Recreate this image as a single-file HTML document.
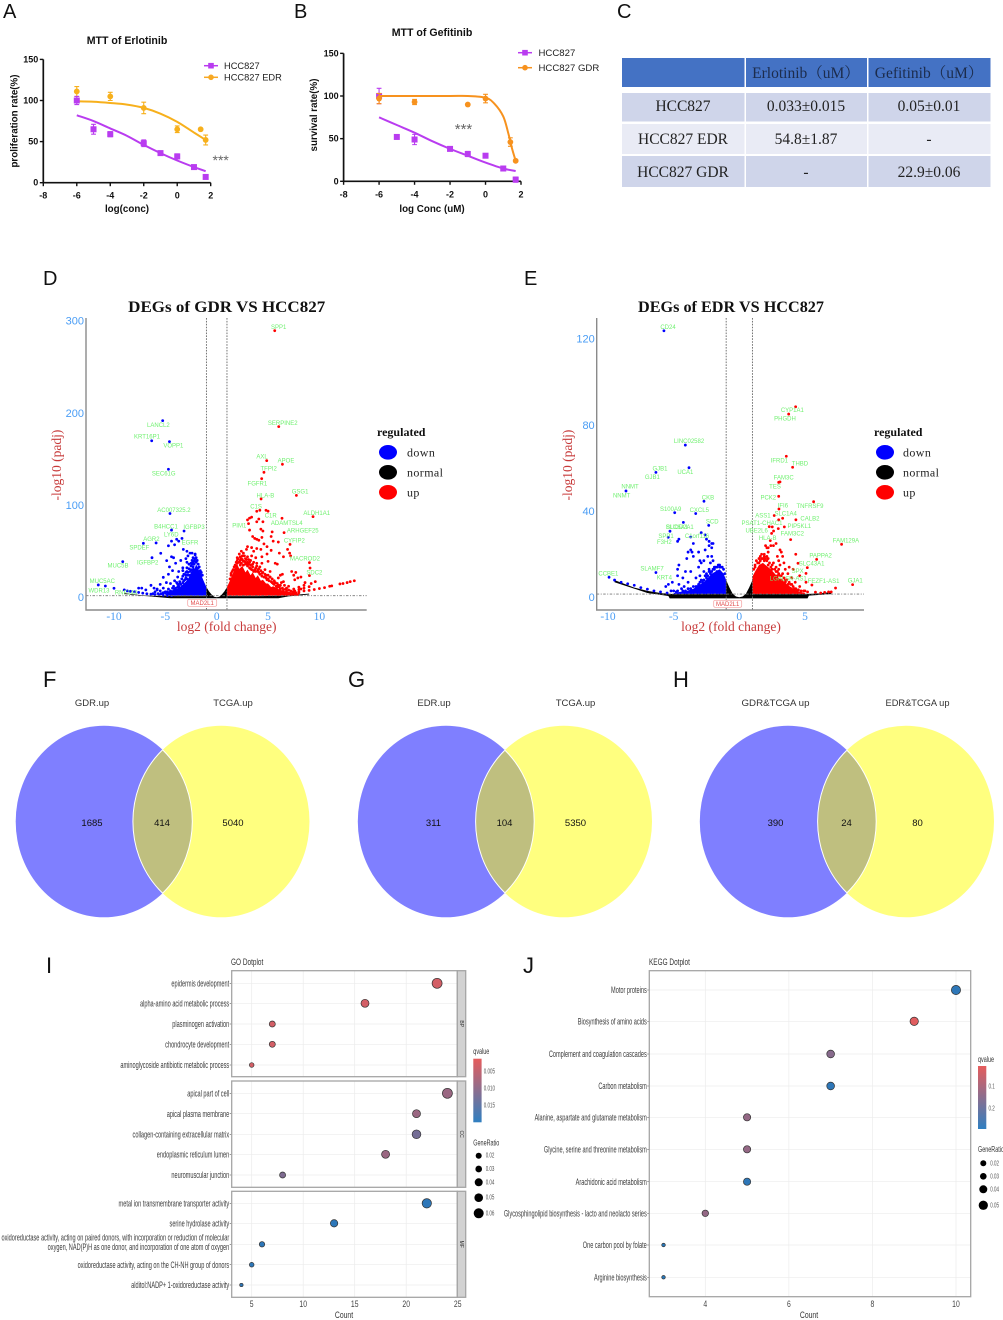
<!DOCTYPE html>
<html lang="en">
<head>
<meta charset="utf-8">
<title>Drug resistance figure panels</title>
<style>
html,body{margin:0;padding:0;background:#fff;width:1003px;height:1320px;overflow:hidden}
svg{display:block;font-family:"Liberation Sans",sans-serif}
.serif{font-family:"Liberation Serif","Noto Serif CJK SC",serif}
.letter{font-size:20px;fill:#111}
.cell{font-size:15.5px;fill:#222;text-anchor:middle}
.venn-label{font-size:9.5px;fill:#333;text-anchor:middle}
.venn-count{font-size:9.5px;fill:#111;text-anchor:middle}
</style>
</head>
<body>
<svg id="figure" xmlns="http://www.w3.org/2000/svg" width="1003" height="1320" viewBox="0 0 1003 1320">
  <rect width="1003" height="1320" fill="#fff"/>
  <text class="letter" x="3" y="18">A</text>
  <text class="letter" x="294" y="18">B</text>
  <text class="letter" x="617" y="18">C</text>
  <text class="letter" x="43" y="285">D</text>
  <text class="letter" x="524" y="285">E</text>
  <text class="letter" x="43" y="687" style="font-size:22px">F</text>
  <text class="letter" x="348" y="687" style="font-size:22px">G</text>
  <text class="letter" x="673" y="687" style="font-size:22px">H</text>
  <text class="letter" x="46" y="973" style="font-size:22px">I</text>
  <text class="letter" x="523" y="973" style="font-size:22px">J</text>

  <g id="panel-a"></g>
  <g id="panel-b"></g>

  <g id="panel-c">
    <rect x="622" y="58" width="122.5" height="29" fill="#4472c4"/>
    <rect x="746" y="58" width="121" height="29" fill="#4472c4"/>
    <rect x="868.5" y="58" width="122" height="29" fill="#4472c4"/>
    <rect x="622" y="93" width="122.5" height="28.5" fill="#cfd5ea"/>
    <rect x="746" y="93" width="121" height="28.5" fill="#cfd5ea"/>
    <rect x="868.5" y="93" width="122" height="28.5" fill="#cfd5ea"/>
    <rect x="622" y="124" width="122.5" height="30" fill="#e9ebf5"/>
    <rect x="746" y="124" width="121" height="30" fill="#e9ebf5"/>
    <rect x="868.5" y="124" width="122" height="30" fill="#e9ebf5"/>
    <rect x="622" y="156" width="122.5" height="31" fill="#cfd5ea"/>
    <rect x="746" y="156" width="121" height="31" fill="#cfd5ea"/>
    <rect x="868.5" y="156" width="122" height="31" fill="#cfd5ea"/>
    <text class="cell serif" x="806" y="78" style="fill:#1c2c4c">Erlotinib（uM）</text>
    <text class="cell serif" x="929" y="78" style="fill:#1c2c4c">Gefitinib（uM）</text>
    <text class="cell serif" x="683" y="111">HCC827</text>
    <text class="cell serif" x="806" y="111">0.033±0.015</text>
    <text class="cell serif" x="929" y="111">0.05±0.01</text>
    <text class="cell serif" x="683" y="144">HCC827 EDR</text>
    <text class="cell serif" x="806" y="144">54.8±1.87</text>
    <text class="cell serif" x="929" y="144">-</text>
    <text class="cell serif" x="683" y="177">HCC827 GDR</text>
    <text class="cell serif" x="806" y="177">-</text>
    <text class="cell serif" x="929" y="177">22.9±0.06</text>
  </g>

  <g id="panel-d"></g>
  <g id="panel-e"></g>

  <defs>
    <clipPath id="clip-f"><ellipse cx="104" cy="821.5" rx="88.3" ry="95.8"/></clipPath>
    <clipPath id="clip-f2"><ellipse cx="221.2" cy="821.5" rx="88.3" ry="95.8"/></clipPath>
    <clipPath id="clip-g"><ellipse cx="446" cy="821.5" rx="88.2" ry="95.8"/></clipPath>
    <clipPath id="clip-g2"><ellipse cx="563.8" cy="821.5" rx="88.2" ry="95.8"/></clipPath>
    <clipPath id="clip-h"><ellipse cx="788" cy="821.5" rx="88.2" ry="95.8"/></clipPath>
    <clipPath id="clip-h2"><ellipse cx="905.8" cy="821.5" rx="88.2" ry="95.8"/></clipPath>
    <linearGradient id="q-gradient" x1="0" y1="0" x2="0" y2="1">
      <stop offset="0" stop-color="#e65c5c"/><stop offset="1" stop-color="#2f7fc1"/>
    </linearGradient>
  </defs>

  <g id="panel-f">
    <ellipse cx="104" cy="821.5" rx="88.3" ry="95.8" fill="#7f7fff"/>
    <ellipse cx="221.2" cy="821.5" rx="88.3" ry="95.8" fill="#ffff7f"/>
    <ellipse cx="221.2" cy="821.5" rx="88.3" ry="95.8" fill="#bfbf7f" stroke="#fff" stroke-width="1" clip-path="url(#clip-f)"/>
    <ellipse cx="104" cy="821.5" rx="88.3" ry="95.8" fill="none" stroke="#fff" stroke-width="1" clip-path="url(#clip-f2)"/>
    <text class="venn-label" x="92" y="706">GDR.up</text>
    <text class="venn-label" x="233" y="706">TCGA.up</text>
    <text class="venn-count" x="92" y="826">1685</text>
    <text class="venn-count" x="162" y="826">414</text>
    <text class="venn-count" x="233" y="826">5040</text>
  </g>
  <g id="panel-g">
    <ellipse cx="446" cy="821.5" rx="88.2" ry="95.8" fill="#7f7fff"/>
    <ellipse cx="563.8" cy="821.5" rx="88.2" ry="95.8" fill="#ffff7f"/>
    <ellipse cx="563.8" cy="821.5" rx="88.2" ry="95.8" fill="#bfbf7f" stroke="#fff" stroke-width="1" clip-path="url(#clip-g)"/>
    <ellipse cx="446" cy="821.5" rx="88.2" ry="95.8" fill="none" stroke="#fff" stroke-width="1" clip-path="url(#clip-g2)"/>
    <text class="venn-label" x="434" y="706">EDR.up</text>
    <text class="venn-label" x="575.5" y="706">TCGA.up</text>
    <text class="venn-count" x="433.5" y="826">311</text>
    <text class="venn-count" x="504.5" y="826">104</text>
    <text class="venn-count" x="575.5" y="826">5350</text>
  </g>
  <g id="panel-h">
    <ellipse cx="788" cy="821.5" rx="88.2" ry="95.8" fill="#7f7fff"/>
    <ellipse cx="905.8" cy="821.5" rx="88.2" ry="95.8" fill="#ffff7f"/>
    <ellipse cx="905.8" cy="821.5" rx="88.2" ry="95.8" fill="#bfbf7f" stroke="#fff" stroke-width="1" clip-path="url(#clip-h)"/>
    <ellipse cx="788" cy="821.5" rx="88.2" ry="95.8" fill="none" stroke="#fff" stroke-width="1" clip-path="url(#clip-h2)"/>
    <text class="venn-label" x="775.5" y="706" textLength="68" lengthAdjust="spacingAndGlyphs">GDR&amp;TCGA up</text>
    <text class="venn-label" x="917.5" y="706" textLength="64" lengthAdjust="spacingAndGlyphs">EDR&amp;TCGA up</text>
    <text class="venn-count" x="775.5" y="826">390</text>
    <text class="venn-count" x="846.5" y="826">24</text>
    <text class="venn-count" x="917.5" y="826">80</text>
  </g>

  <g id="panel-i"></g>
  <g id="panel-j"></g>
</svg>

<script>
// ---------- Panel A/B: dose response data ----------
const doseXTicks = [-8,-6,-4,-2,0,2];
const doseYTicks = [0,50,100,150];

const erlWtX = [-6,-5,-4,-2,-1,0,1,1.7];
const erlWtY = [100,65,59,48,36,32,19,7];
const erlWtErr = [5,6,3,4,2,3,2,2];
const erlWtCurveX = [-6,-5,-4,-3,-2,-1,0,1,1.7];
const erlWtCurveY = [82,75,66,57,46,36,27,19,14];
const erlResX = [-6,-4,-2,0,1.4,1.7];
const erlResY = [111,105,91,65,65,52];
const erlResErr = [6,5,7,4,1,6];
const erlResCurveX = [-6,-5,-4,-3,-2,-1,0,1,1.7];
const erlResCurveY = [99,98.5,97,95,91,84,74,61,52];

const gefWtX = [-6,-5,-4,-2,-1,0,1,1.7];
const gefWtY = [100,52,49,38,32,30,15,2];
const gefWtErr = [9,2,6,2,3,2,2,3];
const gefWtCurveX = [-6,-5,-4,-3,-2,-1,0,1,1.7];
const gefWtCurveY = [75,66,57,47,38,30,22,15,12];
const gefResX = [-6,-4,-1,0,1.4,1.7];
const gefResY = [97,93,90,97,46,24];
const gefResErr = [6,3,1,5,5,1];
const gefResCurveX = [-6,-4,-2,-1,0,0.5,1,1.3,1.5,1.7];
const gefResCurveY = [100,100,100,100,98,91,76,55,38,24];

// ---------- Panel D: GDR volcano data ----------
const gdrXTicks = [-10,-5,0,5,10];
const gdrYTicks = [0,100,200,300];
const gdrBlackUpperX = [-9,-8,-7,-6,-4,-1.01,-1,-0.75,-0.5,-0.25,0,0.25,0.5,0.75,1,1.01,4,6,7,8,9];
const gdrBlackUpperY = [4.5,3,2,1.6,1.3,1.3,11,6.5,3,0.6,0,0.6,3,6.5,11,1.3,1.3,1.6,2,3,4];
const gdrBlackLowerX = [9,7,6,-4.5,-6,-9];
const gdrBlackLowerY = [3,1,-1,-1,0.5,3.5];
const gdrUpDenseX = [1,1.2,1.5,1.8,2,2.2,2.5,2.8,3,3.3,3.5,3.8,4,4.3,4.5,4.8,5,5.3,5.5,6,6.5,7,8];
const gdrUpDenseY = [11,16,24,32,36,31,34,27,30,24,27,21,24,18,19,15,15,11,12,9,7,6,4];
const gdrDownDenseX = [-1,-1.2,-1.5,-1.8,-2,-2.15,-2.3,-2.6,-2.8,-3,-3.3,-3.5,-4,-4.5,-5];
const gdrDownDenseY = [11,16,24,31,36,31,34,24,20,17,14,12,8,6,4];
const gdrUpPoints = [5.65,289.5,6.04,185.3,4.87,148.4,6.4,144.4,4.6,135.7,4.38,128.8,4.32,106.8,7.76,110.7,3.9,93.4,4.2,94.5,4.8,94.5,5,93.5,9.38,87.6,6.36,85.8,6.56,70.2,7.14,57.5,9.03,37.6,9.09,31.8,9.03,23.5,
3.1,80,3,84,3.4,87,3.2,86,3.9,82,4.1,85,4.5,82,3.2,73,4.3,74,4.5,72,5.4,71,6,60,5.5,61,5.3,66,3.5,66,3.7,64,3.9,63,4.1,62,4.4,65,4.6,58,4.9,55,3,55,2.9,52,3.4,54,3.6,50,3.9,53,4.3,52,2.4,50,2.6,48,2.2,47,2.7,45,3,44,3.4,45,3.8,43,4.4,44,4.9,47,5.3,51,6.1,48,6.5,44,6.9,52,7.1,48,7.2,45,5.7,37,5.9,36,5,39,4.4,37,3.9,37,3.5,36,3,38,2.6,39,2.3,40,2,43,2,37,2.3,35,2.8,36,3.3,35,3.8,32,4.2,33,4.7,30,5.2,28,6.2,24,6.4,25,6,21,7.3,28,7.7,27,7.5,24,7.9,21,8.2,22,7.6,19,8.6,16,6.5,17,5.6,18,5.9,15,6.6,13,7,12,8,11,8.5,13,9.2,15,9.6,17,7.5,9,8.2,9,5.2,22,4.8,24,4.4,26,3.2,32,3.6,29,4,28,2.9,41,2.4,42,1.9,34,1.7,30,1.4,24,1.3,20,5.4,16,6.2,13,6.8,10,
1.4,26,1.5,28,1.6,30,1.7,33,1.8,35,1.9,38,2,40,2.1,42,2.2,38,2.3,44,2.4,37,2.5,41,2.5,45,2.6,35,2.7,39,2.8,42,2.8,38,2.9,36,3,34,3.1,36,3.1,41,3.2,38,3.3,31,3.3,40,3.4,30,3.5,33,3.6,28,3.6,38,3.7,30,3.8,28,3.9,34,4,30,4.1,27,4.1,31,4.2,25,4.3,29,4.4,23,4.5,27,4.6,22,4.7,25,4.8,21,4.9,19,5,24,5,20,5.1,18,5.2,22,5.3,17,5.4,20,5.5,15,5.6,14,5.7,16,5.8,12,5.9,11,6,13,6.1,11,6.2,9,6.3,16,6.4,10,6.5,8,6.7,9,6.8,7,7,8,7.2,7,7.4,6,7.7,5,8,5,
6,3,6.5,4,7,4.5,7.5,5,8,6,8.5,7,9,7.5,9.5,8.5,10,9.5,10.5,10.5,11,12,11.2,12.4,12,14.5,12.3,15,12.7,16,13,17,13.4,18,7.6,7,8,8.5,8.5,10,9,11.5];
const gdrDownPoints = [-5.26,191.8,-6.33,170,-4.6,169,-4.7,139,-4.55,91,-4.4,73,-3.18,72,-3.38,64,-3.9,63,-4.4,61,-3.7,61,-4.1,57,-4.7,56,-7.14,58.6,-5.9,59,-3.25,52,-9.15,38.7,-6.3,43,-5.45,47.8,-4.87,39.8,-4.4,44,-2.9,50,-2.4,48,-2.1,46,-11.53,13.4,-10.84,12.3,-10,9.8,-5.2,21.7,
-2.6,48,-2.1,47,-2.3,43,-2.8,45,-3,42,-2.4,40,-2.1,39,-2.9,38,-3.5,40,-4.2,43,-4,37,-4.6,33,-3.3,32,-2.9,32,-2.5,34,-4.3,29,-3.7,28,-3.3,29,-2.8,27,-4.7,25,-3.8,22,-3.3,23,-3,24,-2.6,24,-4.1,18,-3.6,17,-3.2,18,-2.9,20,-4.5,15,-4.9,16,-5.5,14,-6.4,13,-6.1,10,-5.8,9,-5.2,10,-4.7,9,-4.2,12,-3.8,14,-7.3,10,-7.6,10,-6.9,8,-5.8,8,-6,6,-5.5,7,-5,5,-4.4,6,-4,8,-3.6,10,-3.2,12,-2.2,36,-2,38,-1.8,32,-1.6,26,
-1.4,24,-1.5,27,-1.6,29,-1.7,33,-1.8,36,-1.9,40,-2,43,-2.1,42,-2.2,40,-2.3,38,-2.3,33,-2.4,36,-2.5,30,-2.5,37,-2.6,28,-2.7,31,-2.7,36,-2.8,24,-2.9,28,-3,21,-3,27,-3.1,19,-3.2,25,-3.3,16,-3.4,20,-3.5,14,-3.6,15,-3.7,12,-3.8,11,-3.9,16,-4,10,-4.1,9,-4.2,7,-4.3,10,-4.5,7,-4.6,5,-4.8,6,-5,6,-5.2,5,-5.4,4,-5.7,4,-6.2,4,
-9,8,-8.7,7,-8.4,6.5,-8,6,-7.6,5.3,-7.2,4.5,-6.8,3.8,-6.4,3.4,-6,3,-5.6,2.6,-5.2,2.2,-4.8,2,-4.4,1.8];
const gdrGenes = ["SPP1","LANCL2","KRT16P1","VOPP1","SEC61G","AC007325.2","B4HCC1","IGFBP3","LY6D","AGR2","EGFR","SPDEF","IGFBP2","MUC5B","MUC5AC","WDR13","RNF144","SERPINE2","AXL","APOE","TFPI2","FGFR1","GSG1","HLA-B","C1S","C1R","ALDH1A1","PIM1","ADAMTSL4","ARHGEF25","CYFIP2","MACROD2","SDC2"];
const gdrGeneX = [6.04,-5.68,-6.79,-4.22,-5.16,-4.16,-4.94,-2.21,-4.42,-6.36,-2.6,-7.53,-6.72,-9.61,-11.14,-11.46,-8.83,6.43,4.42,6.75,5.06,3.96,8.12,4.74,3.83,5.26,9.74,2.2,6.82,8.38,7.56,8.6,9.51];
const gdrGeneY = [293.5,187,174.8,164.7,134.3,94.8,77.1,76.4,68,63.3,59.4,53.9,38,34.4,17.7,7.6,5,189.3,152.7,148.8,139.7,123.8,114.7,110.7,98.8,88.7,91.6,77.8,80.7,72.4,61.9,42,27.1];

// ---------- Panel E: EDR volcano data ----------
const edrXTicks = [-10,-5,0,5];
const edrYTicks = [0,40,80,120];
const edrBlackUpperX = [-9.5,-8,-7,-6,-5,-1.01,-1,-0.75,-0.5,-0.25,0,0.25,0.5,0.75,1,1.01,5,6,7];
const edrBlackUpperY = [8,4.5,3,2,1.5,1.5,8,4.5,1.6,0.4,0,0.4,1.6,4.5,8,1.5,1.5,1.8,2.4];
const edrBlackLowerX = [7,5.3,5.2,-5.3,-5.4,-7,-9.5];
const edrBlackLowerY = [1.5,0.8,-0.5,-0.5,0.6,2,7];
const edrUpDenseX = [1,1.2,1.5,1.8,2.1,2.4,2.7,3,3.3,3.6,4,4.4,5];
const edrUpDenseY = [9.6,12,15,16,14.5,13,11,9,8,6,4.5,3,2];
const edrDownDenseX = [-1,-1.2,-1.5,-1.8,-2.1,-2.4,-2.7,-3,-3.5,-4,-4.5,-5];
const edrDownDenseY = [8,11,13,12,11,9,7,6,4,3,2.5,2];
const edrUpPoints = [4.29,88.5,3.76,85.1,3.58,65.5,4.06,60.4,3.1,53.6,3,53.4,3,46.9,5.66,44.4,3.02,41,2.66,38,3.3,36.7,3,36,4.31,36,2.28,32.8,2.51,32.7,3.43,32.7,2.97,31.9,2.61,30.8,2.46,29.7,3.91,26.8,2.36,26.3,7.79,24.6,5.89,17.6,4.47,15.8,5.18,13.8,5.08,11.1,8.63,5.9,7.33,4.3,5.53,5.7,5.08,7,4.26,7,
2.4,24,2.6,24,2.2,23,2,24,2.1,23,2.8,25,3.1,22,1.9,20,2.2,21,2.1,19,1.9,18,3.2,21,2.9,19,3.3,19,3,17,3.4,16,3.1,15,4.3,20,3.8,14,3.5,13,4.1,13,3,13,2.8,14,2.5,15,2.2,15,1.9,17,1.6,17,3.3,11,3.7,11,4.6,10,4,9,3.5,8,2.9,10,2.6,10,2.3,12,2,12,3.2,8,2.9,7,3.9,6,4.6,5,4.9,3,4,3,3.4,4,3,4,2.6,5,2.3,7,5,3,4.4,3,5.8,2.4,6.2,2,6.5,2.3,6.8,2.5,7,2.5,1.2,14,1.5,16,1.7,18,
1.1,13,1.2,15,1.3,17,1.4,16,1.5,18,1.6,19,1.7,20,1.8,18,1.9,19,2,18,2.1,17,2.2,18,2.3,16,2.4,14,2.5,13,2.6,16,2.7,13,2.8,12,2.9,12,3,11,3.1,10,3.2,10,3.4,9,3.5,7,3.6,8,3.7,6,3.8,7,4,6,4.1,5,4.2,4,4.3,4,4.5,3.5,4.7,3,5.2,2.5];
const edrDownPoints = [-5.74,123.8,-4.11,70.7,-3.83,60.2,-6.35,58,-8.63,49.4,-2.69,44.6,-4.92,39.3,-3.32,38.9,-4.26,34.8,-2.33,33.4,-5.28,30.7,-5.41,27.9,-6.35,11.5,-9.92,9.3,
-2.9,30,-2.6,29,-2.5,27,-2.3,26,-2.1,25,-2,25,-2.3,24,-2.1,23,-3.5,25,-3.7,22,-3.9,21,-3.6,21,-3.1,21,-2.6,22,-4,18,-3.5,19,-3,17,-2.9,16,-2.7,17,-2.1,19,-2.4,19,-2.2,16,-2,17,-3.1,14,-2.7,12,-2.3,13,-4.6,15,-4.7,13,-4.1,12,-3.7,12,-2.5,11,-2.1,10,-1.7,12,-4.7,10,-4.3,9,-3.9,7,-3.3,9,-3,10,-2.7,8,-5.1,7,-5.4,6,-5.6,5,-4.6,6,-4.2,5,-3.7,4,-3.2,5,-2.8,5,-5,3,-4.7,3,-4.3,3,-3.8,2.5,-3.3,3,-2.6,3,-4.6,27,-4.7,26,-3.7,28,-2.2,12,-1.9,14,-1.5,14,
-1.1,11,-1.2,13,-1.3,14,-1.4,14,-1.5,15,-1.6,15,-1.7,14,-1.8,14,-1.9,13,-2,13,-2.1,12,-2.2,11,-2.3,12,-2.4,10,-2.5,9,-2.6,10,-2.7,8,-2.8,7,-2.9,8,-3,7,-3.1,6,-3.3,5,-3.5,5,-3.7,3,-3.9,4,-4.1,3,-4.4,4,-4.8,2.5,-5.2,3,
-9.5,8,-9,7,-8.5,6.3,-8,5.6,-7.5,4.5,-7,3.8,-6.5,3,-6,2.5,-5.5,2];
const edrGenes = ["CD24","LINC02582","GJB1","GJB1","UCA1","NNMT","NNMT","CKB","S100A9","CXCL5","SCD","BUDD2A1","SLC6A1","SPP1","F3H2","C1orf116","SLAMF7","KRT4","CCBE1","CYP1A1","PHGDH","IFRD1","THBD","FAM3C","TES","PCK2","IFI6","TNFRSF9","ASS1","SLC1A4","CALB2","PSAT1-CHAC1","PIP5KL1","UBE2L6","FAM3C2","HLA-B","FAM129A","PAPPA2","SLC43A1","SPX","LGALSR-AS1","FEZF1-AS1","GJA1"];
const edrGeneX = [-5.43,-3.83,-6.04,-6.62,-4.11,-8.32,-8.96,-2.39,-5.23,-3.05,-2.06,-4.52,-4.75,-5.58,-5.71,-3.22,-6.65,-5.71,-9.97,4.04,3.48,3.05,4.62,3.38,2.72,2.21,3.32,5.38,1.8,3.53,5.38,1.73,4.57,1.32,4.04,2.16,8.12,6.19,5.51,4.44,3.73,6.42,8.83];
const edrGeneY = [125.5,72.6,59.9,55.9,58.2,51.4,47.2,46.3,41,40.6,35.3,32.7,32.7,28.5,25.7,28.5,13.3,9.1,11,87,83,63.5,62.2,55.6,51.4,46.4,42.7,42.3,38.1,38.9,36.5,34.5,33.1,31,29.6,27.6,26.3,19.5,15.6,12.2,8.7,7.6,7.7];

// ---------- Panel I: GO dotplot data ----------
const goXTicks = [5,10,15,20,25];
const goTerms = ["epidermis development","alpha-amino acid metabolic process","plasminogen activation","chondrocyte development","aminoglycoside antibiotic metabolic process","apical part of cell","apical plasma membrane","collagen-containing extracellular matrix","endoplasmic reticulum lumen","neuromuscular junction","metal ion transmembrane transporter activity","serine hydrolase activity","oxidoreductase activity, acting on paired donors, with incorporation or reduction of molecular|oxygen, NAD(P)H as one donor, and incorporation of one atom of oxygen","oxidoreductase activity, acting on the CH-NH group of donors","alditol:NADP+ 1-oxidoreductase activity"];
const goCount = [23,16,7,7,5,24,21,21,18,8,22,13,6,5,4];
const goRatio = [.058,.042,.026,.026,.0145,.058,.042,.048,.042,.026,.053,.037,.021,.0145,.005];
const goQvalue = [.002,.002,.002,.002,.002,.008,.008,.012,.008,.011,.0195,.0195,.0195,.0195,.0195];
const goGroups = ["BP","CC","MF"];
const goLegendQ = ["0.005","0.010","0.015"];
const goLegendRatio = ["0.02","0.03","0.04","0.05","0.06"];
const goLegendRatioValues = [.026,.031,.042,.047,.058];

// ---------- Panel J: KEGG dotplot data ----------
const keggXTicks = [4,6,8,10];
const keggTerms = ["Motor proteins","Biosynthesis of amino acids","Complement and coagulation cascades","Carbon metabolism","Alanine, aspartate and glutamate metabolism","Glycine, serine and threonine metabolism","Arachidonic acid metabolism","Glycosphingolipid biosynthesis - lacto and neolacto series","One carbon pool by folate","Arginine biosynthesis"];
const keggCount = [10,9,7,7,5,5,5,4,3,3];
const keggRatio = [.052,.045,.04,.04,.036,.036,.036,.03,.006,.006];
const keggQvalue = [.29,.01,.15,.29,.13,.13,.29,.13,.3,.3];
const keggLegendQ = ["0.1","0.2"];
const keggLegendRatio = ["0.02","0.03","0.04","0.05"];
const keggLegendRatioValues = [.026,.031,.042,.052];

const NS = 'http://www.w3.org/2000/svg';
function mk(parent, tag, attrs, text) {
  const el = document.createElementNS(NS, tag);
  for (const k in attrs) el.setAttribute(k, attrs[k]);
  if (text !== undefined) el.textContent = text;
  parent.appendChild(el);
  return el;
}
function smooth(pts) {
  let d = 'M' + pts[0][0] + ' ' + pts[0][1];
  for (let i = 0; i < pts.length - 1; i++) {
    const p0 = pts[i-1] || pts[i], p1 = pts[i], p2 = pts[i+1], p3 = pts[i+2] || p2;
    d += ' C' + (p1[0] + (p2[0]-p0[0])/6) + ' ' + (p1[1] + (p2[1]-p0[1])/6) + ' ' +
         (p2[0] - (p3[0]-p1[0])/6) + ' ' + (p2[1] - (p3[1]-p1[1])/6) + ' ' + p2[0] + ' ' + p2[1];
  }
  return d;
}

// ---------- dose charts ----------
function drawDoseAxes(g, sx, sy, titleText, titleX, titleY, xLabel, xLabelX, yLabel, yLabelX, yLabelY) {
  let e = mk(g, 'text', {x:titleX, y:titleY, 'text-anchor':'middle', 'font-size':10.6, 'font-weight':'bold', fill:'#111'}, titleText);
  
  
  e = mk(g, 'line', {x1:sx(-8), x2:sx(2), y1:sy(0), y2:sy(0), stroke:'#111', 'stroke-width':1.7});
  
  
  e = mk(g, 'line', {x1:sx(-8), x2:sx(-8), y1:sy(0), y2:sy(150), stroke:'#111', 'stroke-width':1.7});
  
  
  doseXTicks.forEach(function (t) {
    const tick = mk(g, 'line', {x1:sx(t), x2:sx(t), y1:sy(0), y2:sy(0)+3.5, stroke:'#111', 'stroke-width':1.4});
    
    
    const lab = mk(g, 'text', {x:sx(t), y:sy(0)+16, 'text-anchor':'middle', 'font-size':9, 'font-weight':'bold', fill:'#111'}, t);
    
    
  });
  doseYTicks.forEach(function (t) {
    const tick = mk(g, 'line', {x1:sx(-8)-3.5, x2:sx(-8), y1:sy(t), y2:sy(t), stroke:'#111', 'stroke-width':1.4});
    
    
    const lab = mk(g, 'text', {x:sx(-8)-5, y:sy(t)+3, 'text-anchor':'end', 'font-size':9, 'font-weight':'bold', fill:'#111'}, t);
    
    
  });
  e = mk(g, 'text', {x:xLabelX, y:212, 'text-anchor':'middle', 'font-size':9.8, 'font-weight':'bold', fill:'#111'}, xLabel);
  
  
  e = mk(g, 'text', {x:yLabelX, y:yLabelY, 'text-anchor':'middle', 'font-size':9.8, 'font-weight':'bold', fill:'#111', transform:'rotate(-90 '+yLabelX+' '+yLabelY+')'}, yLabel);
  
  
}
function drawDoseSeries(g, sx, sy, cx, cy, px, py, perr, color, square) {
  const curve = cx.map(function (v, i) { return [sx(v), sy(cy[i])]; });
  const path = mk(g, 'path', {d:smooth(curve), fill:'none', stroke:color, 'stroke-width':2});
  
  
  px.forEach(function (v, i) {
    const x = sx(v), y = sy(py[i]), t = sy(py[i]+perr[i]), b = sy(py[i]-perr[i]);
    const err = mk(g, 'path', {d:'M'+(x-2.4)+' '+t+'H'+(x+2.4)+'M'+x+' '+t+'V'+b+'M'+(x-2.4)+' '+b+'H'+(x+2.4), stroke:color, 'stroke-width':1.1, fill:'none'});
    
    
    const m = square ? mk(g, 'rect', {x:x-3, y:y-3, width:6, height:6, fill:color})
                     : mk(g, 'circle', {cx:x, cy:y, r:2.9, fill:color});
    
    
  });
}
function drawDoseLegend(g, x, y, label, color, square, textX, fs) {
  const ln = mk(g, 'line', {x1:x-7, x2:x+7, y1:y, y2:y, stroke:color, 'stroke-width':1.5});
  
  
  const m = square ? mk(g, 'rect', {x:x-2.8, y:y-2.8, width:5.6, height:5.6, fill:color})
                   : mk(g, 'circle', {cx:x, cy:y, r:2.8, fill:color});
  
  
  const t = mk(g, 'text', {x:textX, y:y+3.3, 'font-size':fs, fill:'#222'}, label);
  
  
}
(function () {
  const purple = '#b93cf0';
  const ga = document.getElementById('panel-a');
  const ax = function (v) { return 43.3 + (v + 8) * 16.74; };
  const ay = function (v) { return 182.7 - v * 0.822; };
  drawDoseAxes(ga, ax, ay, 'MTT of Erlotinib', 127, 44, 'log(conc)', 127, 'proliferation rate(%)', 17.5, 121);
  drawDoseSeries(ga, ax, ay, erlResCurveX, erlResCurveY, erlResX, erlResY, erlResErr, '#f7b01c', false);
  drawDoseSeries(ga, ax, ay, erlWtCurveX, erlWtCurveY, erlWtX, erlWtY, erlWtErr, purple, true);
  drawDoseLegend(ga, 211, 65.7, 'HCC827', purple, true, 224, 9.3);
  drawDoseLegend(ga, 211, 77.3, 'HCC827 EDR', '#f7a823', false, 224, 9.3);
  let star = mk(ga, 'text', {x:220.7, y:165, 'text-anchor':'middle', 'font-size':14, fill:'#666'}, '***');
  
  

  const gb = document.getElementById('panel-b');
  const bx = function (v) { return 343.6 + (v + 8) * 17.74; };
  const by = function (v) { return 181.3 - v * 0.853; };
  drawDoseAxes(gb, bx, by, 'MTT of Gefitinib', 432, 36, 'log Conc (uM)', 432, 'survival rate(%)', 317, 115);
  drawDoseSeries(gb, bx, by, gefWtCurveX, gefWtCurveY, gefWtX, gefWtY, gefWtErr, purple, true);
  drawDoseSeries(gb, bx, by, gefResCurveX, gefResCurveY, gefResX, gefResY, gefResErr, '#f7921e', false);
  drawDoseLegend(gb, 525, 52.7, 'HCC827', purple, true, 538.5, 9.6);
  drawDoseLegend(gb, 525, 67.7, 'HCC827 GDR', '#f7921e', false, 538.5, 9.6);
  star = mk(gb, 'text', {x:463.5, y:134, 'text-anchor':'middle', 'font-size':15, fill:'#666'}, '***');
  
  
})();

// ---------- volcano plots ----------
function drawVolcano(g, o, xTicks, yTicks, blackUX, blackUY, blackLX, blackLY, upX, upY, downX, downY, upPts, downPts, genes, geneX, geneY) {
  const sx = function (v) { return o.x0 + v * o.kx; };
  const sy = function (v) { return o.y0 - v * o.ky; };
  const base = o.threshold;
  function poly(xs, ys, closeToBase, extraX, extraY) {
    let p = [];
    if (closeToBase) p.push(sx(xs[0]) + ',' + sy(base));
    xs.forEach(function (v, i) { p.push(sx(v) + ',' + sy(ys[i])); });
    if (closeToBase) p.push(sx(xs[xs.length-1]) + ',' + sy(base));
    if (extraX) extraX.forEach(function (v, i) { p.push(sx(v) + ',' + sy(extraY[i])); });
    return p.join(' ');
  }
  let e = mk(g, 'polygon', {points:poly(blackUX, blackUY, false, blackLX, blackLY), fill:'#000'});
  
  
  e = mk(g, 'polygon', {points:poly(upX, upY, true), fill:'#f00'});
  
  
  e = mk(g, 'polygon', {points:poly(downX, downY, true), fill:'#00f'});
  
  
  for (let i = 0; i < upPts.length; i += 2) {
    const c = mk(g, 'circle', {cx:sx(upPts[i]), cy:sy(upPts[i+1]), r:1.4, fill:'#f00'});
    
    
  }
  for (let i = 0; i < downPts.length; i += 2) {
    const c = mk(g, 'circle', {cx:sx(downPts[i]), cy:sy(downPts[i+1]), r:1.4, fill:'#00f'});
    
    
  }
  e = mk(g, 'line', {x1:o.left, x2:o.right, y1:sy(base), y2:sy(base), stroke:'#777', 'stroke-width':0.9, 'stroke-dasharray':'2.5 1.5 1 1.5'});
  
  
  [-1, 1].forEach(function (v) {
    const l = mk(g, 'line', {x1:sx(v), x2:sx(v), y1:o.top, y2:o.bottom, stroke:'#666', 'stroke-width':0.9, 'stroke-dasharray':'1.6 1.3'});
    
    
  });
  e = mk(g, 'path', {d:'M'+o.left+' '+o.top+'V'+o.bottom+'H'+o.right, fill:'none', stroke:'#8a8a8a', 'stroke-width':1.4});
  
  
  xTicks.forEach(function (t) {
    const tk = mk(g, 'text', {x:sx(t), y:620, 'text-anchor':'middle', 'font-size':11.5, fill:'#4a9df5', 'class':'serif'}, t);
    
    
  });
  yTicks.forEach(function (t) {
    const tk = mk(g, 'text', {x:o.left-2, y:sy(t)+3.7, 'text-anchor':'end', 'font-size':11, fill:'#4a9df5'}, t);
    
    
  });
  genes.forEach(function (name, i) {
    const t = mk(g, 'text', {x:sx(geneX[i]), y:sy(geneY[i])+2, 'text-anchor':'middle', 'font-size':6, fill:'#6ff06f'}, name);
    
    
  });
  e = mk(g, 'rect', {x:o.mx, y:o.my, width:o.mw, height:7, rx:1.5, fill:'#fff', stroke:'#f5a0a0', 'stroke-width':0.7});
  
  
  e = mk(g, 'text', {x:o.mx+o.mw/2, y:o.my+5.5, 'text-anchor':'middle', 'font-size':6, fill:'#e24b4b'}, 'MAD2L1');
  
  
  e = mk(g, 'text', {x:o.titleX, y:312, 'text-anchor':'middle', 'font-size':15.5, 'font-weight':'bold', fill:'#111', 'class':'serif', textLength:o.titleW, lengthAdjust:'spacingAndGlyphs'}, o.title);
  
  
  e = mk(g, 'text', {x:o.titleX, y:631, 'text-anchor':'middle', 'font-size':13.5, fill:'#c73a3a', 'class':'serif'}, 'log2 (fold change)');
  
  
  e = mk(g, 'text', {x:o.yTitleX, y:465, 'text-anchor':'middle', 'font-size':13.5, fill:'#c73a3a', 'class':'serif', transform:'rotate(-90 '+o.yTitleX+' 465)'}, '-log10 (padj)');
  
  
  e = mk(g, 'text', {x:o.legendX, y:436, 'font-size':12, 'font-weight':'bold', fill:'#111', 'class':'serif'}, 'regulated');
  
  
  [['down','#00f',452.3],['normal','#000',472.3],['up','#f00',492.3]].forEach(function (r) {
    const k = mk(g, 'ellipse', {cx:o.legendCx, cy:r[2], rx:9, ry:7.3, fill:r[1]});
    
    
    const tx = mk(g, 'text', {x:o.legendTx, y:r[2]+4, 'font-size':12, fill:'#222', 'class':'serif', 'letter-spacing':0.4}, r[0]);
    
    
  });
}
drawVolcano(document.getElementById('panel-d'),
  {x0:216.7, kx:10.27, y0:597.3, ky:0.921, threshold:1.7, left:86, right:366.7, top:318, bottom:610, mx:187.7, my:599.3, mw:29, title:'DEGs of GDR VS HCC827', titleX:226.7, titleW:197, yTitleX:61, legendX:377, legendCx:388, legendTx:407},
  gdrXTicks, gdrYTicks, gdrBlackUpperX, gdrBlackUpperY, gdrBlackLowerX, gdrBlackLowerY, gdrUpDenseX, gdrUpDenseY, gdrDownDenseX, gdrDownDenseY, gdrUpPoints, gdrDownPoints, gdrGenes, gdrGeneX, gdrGeneY);
drawVolcano(document.getElementById('panel-e'),
  {x0:739.3, kx:13.13, y0:597.3, ky:2.153, threshold:1.5, left:596.7, right:864, top:318, bottom:610, mx:713.7, my:600.3, mw:28, title:'DEGs of EDR VS HCC827', titleX:731, titleW:186, yTitleX:572, legendX:874, legendCx:885, legendTx:903},
  edrXTicks, edrYTicks, edrBlackUpperX, edrBlackUpperY, edrBlackLowerX, edrBlackLowerY, edrUpDenseX, edrUpDenseY, edrDownDenseX, edrDownDenseY, edrUpPoints, edrDownPoints, edrGenes, edrGeneX, edrGeneY);

// ---------- dot plots ----------
function mixColor(t) {
  t = Math.max(0, Math.min(1, t));
  const a = [230,92,92], b = [40,120,187];
  return 'rgb(' + a.map(function (v, i) { return Math.round(v + (b[i]-v)*t); }).join(',') + ')';
}
function ratioRadius(v) { return 1.4 + 62 * v; }
function narrowText(g, x, y, str, size, anchor, sx, color) {
  const t = mk(g, 'text', {transform:'translate('+x+' '+y+') scale('+sx+' 1)', 'text-anchor':anchor, 'font-size':size, fill:color}, str);
  return t;
}
function drawDotPanel(g, sx, left, right, top, bottom, rowYs, ticks, terms, counts, ratios, qvals, qMax, first) {
  let e = mk(g, 'rect', {x:left, y:top, width:right-left, height:bottom-top, fill:'#fff'});
  
  
  ticks.forEach(function (t) {
    const gl = mk(g, 'line', {x1:sx(t), x2:sx(t), y1:top, y2:bottom, stroke:'#ececec', 'stroke-width':0.7});
    
    
  });
  rowYs.forEach(function (y, i) {
    const idx = first + i;
    const gl = mk(g, 'line', {x1:left, x2:right, y1:y, y2:y, stroke:'#ececec', 'stroke-width':0.7});
    
    
    const tk = mk(g, 'line', {x1:left-2, x2:left, y1:y, y2:y, stroke:'#555', 'stroke-width':0.6});
    
    
    const lines = terms[idx].split('|');
    lines.forEach(function (ln, j) {
      const ty = lines.length > 1 ? y + 1 + (j - 0.5) * 9.5 : y + 3.2;
      const lab = narrowText(g, left-2.5, ty, ln, 9.5, 'end', 0.59, '#3a3a3a');
      
      
    });
    const dot = mk(g, 'circle', {cx:sx(counts[idx]), cy:y, r:ratioRadius(ratios[idx]), fill:mixColor(qvals[idx]/qMax), stroke:'#333', 'stroke-width':0.7});
    
    
  });
  e = mk(g, 'rect', {x:left, y:top, width:right-left, height:bottom-top, fill:'none', stroke:'#a5a5a5', 'stroke-width':1.3});
  
  
}
function drawDotLegend(g, o, qLabels, ratioLabels, ratioValues) {
  let e = narrowText(g, o.x, o.qTitleY, 'qvalue', 8.5, 'start', 0.64, '#333');
  
  
  e = mk(g, 'rect', {x:o.x, y:o.barTop, width:8.3, height:o.barBottom-o.barTop, fill:'url(#q-gradient)'});
  
  
  qLabels.forEach(function (lab, i) {
    const t = narrowText(g, o.x+10.5, o.qYs[i]+2, lab, 7, 'start', 0.64, '#555');
    
    
  });
  e = narrowText(g, o.x, o.ratioTitleY, 'GeneRatio', 8.5, 'start', 0.64, '#333');
  
  
  ratioLabels.forEach(function (lab, i) {
    const c = mk(g, 'circle', {cx:o.dotX, cy:o.ratioYs[i], r:ratioRadius(ratioValues[i]), fill:'#000'});
    
    
    const t = narrowText(g, o.dotX+7, o.ratioYs[i]+2, lab, 7, 'start', 0.64, '#555');
    
    
  });
}
(function () {
  const gi = document.getElementById('panel-i');
  const sx = function (v) { return 251.7 + (v - 5) * 10.3; };
  let e = narrowText(gi, 231, 965, 'GO Dotplot', 9.5, 'start', 0.68, '#333');
  
  
  const groupTop = [970.7, 1081, 1191.3];
  const groupBottom = [1076.7, 1187.3, 1297.3];
  const groupRows = [[983.3,1003.3,1024,1044.3,1065],[1093.3,1113.7,1134.3,1154.3,1175],[1203.3,1223.3,1244.3,1264.7,1285]];
  goGroups.forEach(function (grp, k) {
    drawDotPanel(gi, sx, 231.7, 457.3, groupTop[k], groupBottom[k], groupRows[k], goXTicks, goTerms, goCount, goRatio, goQvalue, 0.02, k*5);
    const s = mk(gi, 'rect', {x:457.3, y:groupTop[k], width:8.4, height:groupBottom[k]-groupTop[k], fill:'#d2d2d2', stroke:'#a5a5a5', 'stroke-width':1.3});
    
    
    const cy = (groupTop[k]+groupBottom[k])/2;
    const t = mk(gi, 'text', {x:461.5, y:cy, 'text-anchor':'middle', 'font-size':5, fill:'#333', transform:'rotate(90 461.5 '+cy+')', 'dominant-baseline':'middle'}, grp);
    
    
  });
  goXTicks.forEach(function (t) {
    const l = narrowText(gi, sx(t), 1307, t, 9.5, 'middle', 0.72, '#444');
    
    
  });
  e = narrowText(gi, 344, 1318, 'Count', 9.5, 'middle', 0.72, '#333');
  
  
  drawDotLegend(gi, {x:473.3, qTitleY:1054, barTop:1058.7, barBottom:1122.3, qYs:[1071.7,1088.3,1105.7], ratioTitleY:1145.5, dotX:478.7, ratioYs:[1155.7,1169,1182.3,1197.7,1213.3]}, goLegendQ, goLegendRatio, goLegendRatioValues);

  const gj = document.getElementById('panel-j');
  const jx = function (v) { return 705.3 + (v - 4) * 41.78; };
  e = narrowText(gj, 649, 965, 'KEGG Dotplot', 9.5, 'start', 0.68, '#333');
  
  
  const rows = [990,1021.3,1054,1086,1117.3,1149.3,1181.7,1213.3,1245,1277.3];
  drawDotPanel(gj, jx, 649.3, 970.7, 970.7, 1296.7, rows, keggXTicks, keggTerms, keggCount, keggRatio, keggQvalue, 0.3, 0);
  keggXTicks.forEach(function (t) {
    const l = narrowText(gj, jx(t), 1307, t, 9.5, 'middle', 0.72, '#444');
    
    
  });
  e = narrowText(gj, 809, 1318, 'Count', 9.5, 'middle', 0.72, '#333');
  
  
  drawDotLegend(gj, {x:978, qTitleY:1062, barTop:1066, barBottom:1129, qYs:[1086.7,1108.7], ratioTitleY:1152, dotX:983.3, ratioYs:[1163.3,1176.3,1189.3,1205.3]}, keggLegendQ, keggLegendRatio, keggLegendRatioValues);
})();
</script>
</body>
</html>
